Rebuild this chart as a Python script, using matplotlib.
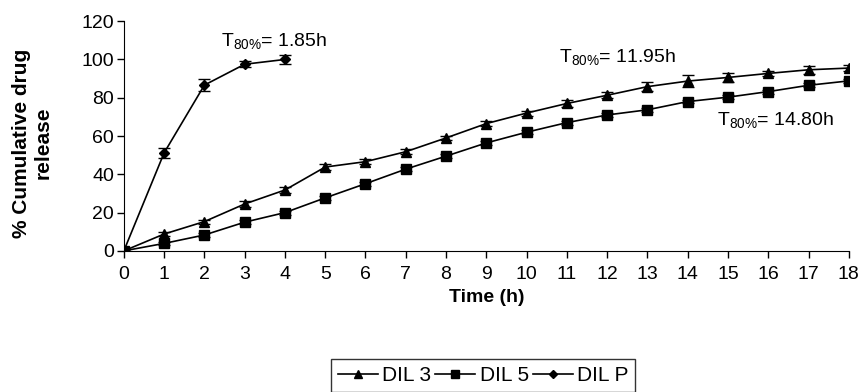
import numpy as np
import matplotlib
matplotlib.use('Agg')
import matplotlib.pyplot as plt
from matplotlib.lines import Line2D

plt.rcParams['font.family'] = ['Liberation Sans', 'DejaVu Sans']
plt.rcParams['mathtext.default'] = 'regular'

# 释放数据（%）
time_h = list(range(0, 19))
dil3 = [0, 8.8, 15.3, 24.5, 31.8, 43.8, 46.6, 51.8, 59.0, 66.5, 72.0, 77.0,
        81.3, 85.8, 88.7, 90.6, 92.7, 94.6, 95.5]
dil3_err = [0, 1.0, 1.0, 1.5, 1.5, 1.5, 1.2, 1.3, 1.2, 1.3, 1.3, 2.0,
            1.5, 2.5, 3.0, 2.5, 1.5, 2.0, 1.5]
dil5 = [0, 3.9, 8.3, 15.0, 20.0, 27.7, 35.1, 42.7, 49.5, 56.4, 62.0, 67.0,
        71.0, 73.7, 78.0, 80.3, 83.2, 86.5, 88.8]
dil5_err = [0, 0.8, 0.8, 1.0, 1.0, 1.0, 1.0, 1.2, 1.0, 1.0, 1.0, 1.0,
            1.0, 1.0, 1.0, 1.0, 1.0, 1.0, 1.0]
dilp_time = [0, 1, 2, 3, 4]
dilp = [0, 51.2, 86.6, 97.5, 100.0]
dilp_err = [0, 2.5, 3.0, 1.5, 2.5]

fig = plt.figure(figsize=(8.6, 3.92), dpi=100)
ax = fig.add_axes([0.144, 0.36, 0.843, 0.586])

style = dict(color='black', lw=1.2, capsize=4, elinewidth=1, capthick=1)
ax.errorbar(time_h, dil3, yerr=dil3_err, marker='^', ms=7, **style)
ax.errorbar(time_h, dil5, yerr=dil5_err, marker='s', ms=6.5, **style)
ax.errorbar(dilp_time, dilp, yerr=dilp_err, marker='D', ms=5.5, **style)

ax.set_xlim(0, 18)
ax.set_ylim(0, 120)
ax.set_xticks(time_h)
ax.set_yticks(range(0, 121, 20))
ax.spines['top'].set_visible(False)
ax.spines['right'].set_visible(False)
ax.tick_params(labelsize=14, length=5, width=1, direction='out')
ax.tick_params(axis='x', pad=6)
ax.tick_params(axis='y', pad=2)
ax.set_xlabel('Time (h)', fontsize=14, fontweight='bold', labelpad=4)
ax.set_ylabel('% Cumulative drug\nrelease', fontsize=15, fontweight='bold')
ax.yaxis.set_label_coords(-0.098, 0.47)

ax.text(2.42, 109.5, r'T$_{80\%}$= 1.85h', fontsize=14, va='center')
ax.text(10.8, 101.5, r'T$_{80\%}$= 11.95h', fontsize=14, va='center')
ax.text(14.72, 68.5, r'T$_{80\%}$= 14.80h', fontsize=14, va='center')

# 图例只画线和点，不带误差棒
handles = [Line2D([], [], color='black', lw=1.2, marker='^', ms=6),
           Line2D([], [], color='black', lw=1.2, marker='s', ms=5.5),
           Line2D([], [], color='black', lw=1.2, marker='D', ms=4.5)]
labels = ['DIL 3', 'DIL 5', 'DIL P']
leg = fig.legend(handles, labels, loc='upper center', bbox_to_anchor=(0.562, 0.084),
                 ncol=3, fontsize=15, frameon=True, fancybox=False,
                 handlelength=1.92, columnspacing=0.2, handletextpad=0.2,
                 borderpad=0.33, borderaxespad=0)
leg.get_frame().set_edgecolor('black')
leg.get_frame().set_linewidth(1)

fig.savefig('out.png', dpi=100)
